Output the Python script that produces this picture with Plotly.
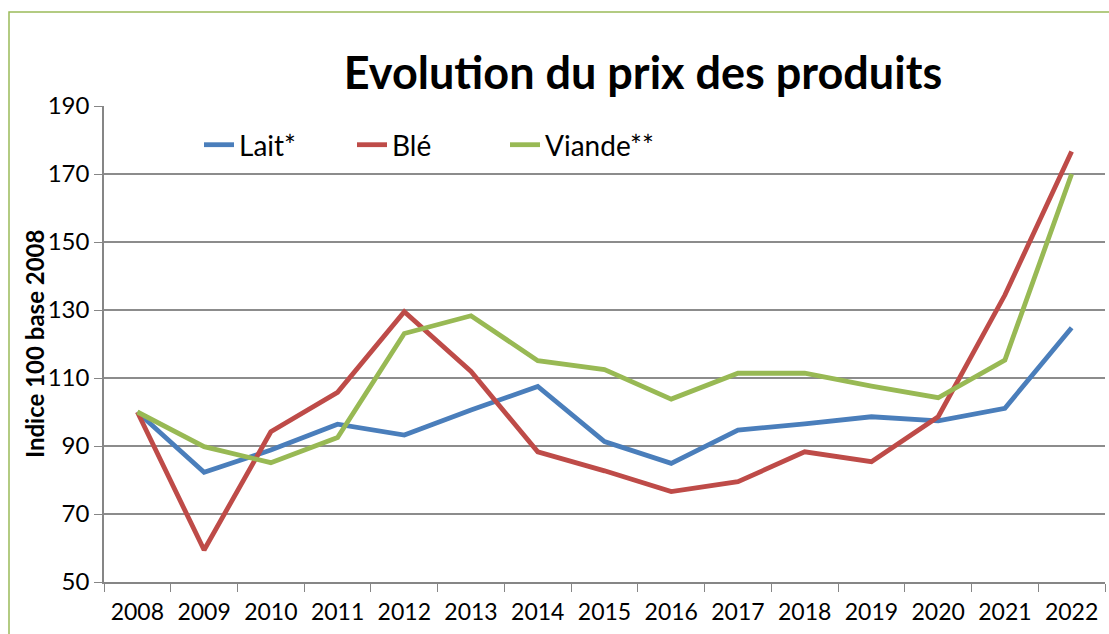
import plotly.graph_objects as go

years = [str(y) for y in range(2008, 2023)]
lait = [100, 82.3, 88.8, 96.4, 93.2, 100.6, 107.5, 91.3, 84.9, 94.7, 96.5, 98.6, 97.4, 101.1, 124.8]
ble = [100, 59.4, 94.2, 105.8, 129.5, 111.9, 88.3, 82.7, 76.6, 79.5, 88.3, 85.4, 98.6, 134.4, 176.6]
viande = [100, 89.8, 85.1, 92.5, 123.1, 128.3, 115.1, 112.5, 103.8, 111.4, 111.4, 107.6, 104.2, 115.3, 170.0]

series = [("Lait*", lait, "#4A7EBB"), ("Blé", ble, "#BE4B48"), ("Viande**", viande, "#98B954")]

FONT = "Lato"
fig = go.Figure()
for name, vals, col in series:
    fig.add_trace(go.Scatter(x=years, y=vals, name=name, mode="lines",
                             line=dict(color=col, width=4.8)))

L, R, T, B = 104, 4, 106, 52
W, H = 1109, 634
pw, ph = W - L - R, H - T - B

def px(x):
    return (x - L) / pw

def py(y):
    return 1 - (y - T) / ph

fig.update_layout(
    width=W, height=H,
    margin=dict(l=L, r=R, t=T, b=B, autoexpand=False),
    paper_bgcolor="white", plot_bgcolor="white",
    font=dict(family=FONT, color="black", size=24),
    showlegend=True,
    legend=dict(orientation="h", x=px(199), xanchor="left", y=py(145), yanchor="middle",
                font=dict(size=28, family=FONT), bgcolor="rgba(0,0,0,0)",
                entrywidth=108, entrywidthmode="pixels"),
    title=dict(text="<b>Evolution du prix des produits</b>", xref="container", x=643 / W,
               xanchor="center", y=1 - 73 / H, yanchor="middle",
               font=dict(size=45, family=FONT, color="black")),
    xaxis=dict(type="category", range=[-0.5, 14.5], showgrid=False, showline=True,
               linecolor="#868686", linewidth=1.5, automargin=False, tickangle=0,
               ticks="outside", tickson="boundaries", ticklen=8, tickcolor="#868686",
               ticklabelstandoff=9, tickfont=dict(size=23, family=FONT), fixedrange=True),
    yaxis=dict(range=[50, 190], dtick=20, tick0=50, showgrid=True, gridcolor="#8C8C8C", gridwidth=1.5,
               showline=True, linecolor="#868686", linewidth=1.5, ticks="outside", ticklen=8,
               automargin=False, tickcolor="#868686", tickfont=dict(size=24, family=FONT),
               zeroline=False, fixedrange=True),
    shapes=[dict(type="rect", xref="paper", yref="paper", x0=px(9), x1=px(1130), y0=py(660), y1=py(12),
                 line=dict(color="#9BBB59", width=1.5), fillcolor="rgba(0,0,0,0)", layer="below")],
    annotations=[dict(text="<b>Indice 100 base 2008</b>", xref="paper", yref="paper",
                      x=px(34), y=py(344), xanchor="center", yanchor="middle", textangle=-90,
                      showarrow=False, font=dict(size=24, family=FONT, color="black"))],
)

fig.write_html("out.html", config={"displayModeBar": False},
               post_script="document.body.style.margin='0';document.body.style.padding='0';")
